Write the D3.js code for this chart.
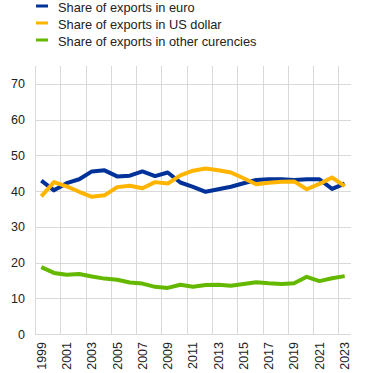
<!DOCTYPE html>
<html>
<head>
<meta charset="utf-8">
<script src="https://cdn.jsdelivr.net/npm/d3@7"></script>
<style>
  body { margin: 0; background: #fff; }
  svg text { font-family: "Liberation Sans", Arial, sans-serif; fill: #222; }
</style>
</head>
<body>
<div id="chart"></div>
<script>
// years on the x axis
const years = d3.range(1999, 2024);

// share of exports by invoicing currency (%)
const euro = [42.9, 40.2, 42.2, 43.3, 45.5, 45.8, 44.1, 44.3, 45.5, 44.2, 45.2, 42.4, 41.2, 39.8,
  40.5, 41.2, 42.2, 43.1, 43.3, 43.3, 43.1, 43.3, 43.3, 40.6, 42.1];
const usd = [38.5, 42.5, 41.3, 39.8, 38.4, 38.8, 41.1, 41.5, 40.8, 42.5, 42.1, 44.4, 45.7, 46.3,
  45.8, 45.2, 43.6, 41.9, 42.3, 42.6, 42.7, 40.5, 42.0, 43.8, 41.4];
const other = [18.7, 17.1, 16.6, 16.8, 16.1, 15.5, 15.2, 14.4, 14.1, 13.2, 12.9, 13.8, 13.2, 13.7,
  13.8, 13.5, 14.0, 14.5, 14.2, 14.0, 14.2, 16.0, 14.8, 15.6, 16.2];

const yTicks = [0, 10, 20, 30, 40, 50, 60, 70];
const xLabels = years.filter(y => (y - 1999) % 2 === 0);

const series = [
  { name: "Share of exports in euro", values: euro, color: "#003299" },
  { name: "Share of exports in US dollar", values: usd, color: "#ffb400" },
  { name: "Share of exports in other curencies", values: other, color: "#65b800" }
];

const width = 372, height = 373;
const marginLeft = 35, marginRight = 21, marginTop = 66, marginBottom = 39;

const svg = d3.select("#chart").append("svg")
  .attr("width", width)
  .attr("height", height);

const x = d3.scaleBand()
  .domain(years)
  .range([marginLeft, width - marginRight])
  .padding(0);

const y = d3.scaleLinear()
  .domain([0, 75])
  .range([height - marginBottom, marginTop]);

// grid lines
const grid = svg.append("g").attr("stroke", "#d9d9d9").attr("stroke-width", 1);
grid.selectAll(".h")
  .data(yTicks)
  .join("line")
  .attr("x1", marginLeft).attr("x2", width - marginRight)
  .attr("y1", d => Math.round(y(d)) + 0.5).attr("y2", d => Math.round(y(d)) + 0.5);
grid.selectAll(".v")
  .data(years.filter(yr => (yr - 1999) % 2 === 0 && yr > 1999).concat([1999]))
  .join("line")
  .attr("x1", d => Math.round(x(d)) + 0.5).attr("x2", d => Math.round(x(d)) + 0.5)
  .attr("y1", marginTop).attr("y2", height - marginBottom);

// y axis labels
svg.append("g")
  .attr("transform", `translate(${marginLeft - 10},0)`)
  .call(d3.axisLeft(y).tickValues(yTicks).tickSize(0).tickPadding(0))
  .call(g => g.select(".domain").remove())
  .call(g => g.selectAll("text")
    .attr("font-size", 12.5)
    .attr("font-family", "Liberation Sans, Arial, sans-serif")
    .attr("fill", "#222"));

// x axis labels, rotated
svg.append("g")
  .attr("transform", `translate(0,${height - marginBottom})`)
  .call(d3.axisBottom(x).tickValues(xLabels).tickSize(0))
  .call(g => g.select(".domain").remove())
  .call(g => g.selectAll("text")
    .attr("font-size", 12.5)
    .attr("font-family", "Liberation Sans, Arial, sans-serif")
    .attr("fill", "#222")
    .attr("text-anchor", "end")
    .attr("transform", "rotate(-90)")
    .attr("x", -8)
    .attr("y", 0)
    .attr("dy", "0.35em"));

// lines
const line = d3.line()
  .x((d, i) => x(years[i]) + x.bandwidth() / 2)
  .y(d => y(d));

svg.append("g")
  .selectAll("path")
  .data(series)
  .join("path")
  .attr("fill", "none")
  .attr("stroke", d => d.color)
  .attr("stroke-width", 4)
  .attr("stroke-linejoin", "round")
  .attr("d", d => line(d.values));

// legend
const legend = svg.append("g")
  .selectAll("g")
  .data(series)
  .join("g")
  .attr("transform", (d, i) => `translate(36,${6 + i * 17})`);
legend.append("line")
  .attr("x1", 0).attr("x2", 12)
  .attr("stroke", d => d.color)
  .attr("stroke-width", 3);
legend.append("text")
  .attr("x", 22)
  .attr("y", 2)
  .attr("dy", "0.35em")
  .attr("font-size", 12.8)
  .text(d => d.name);
</script>
</body>
</html>
